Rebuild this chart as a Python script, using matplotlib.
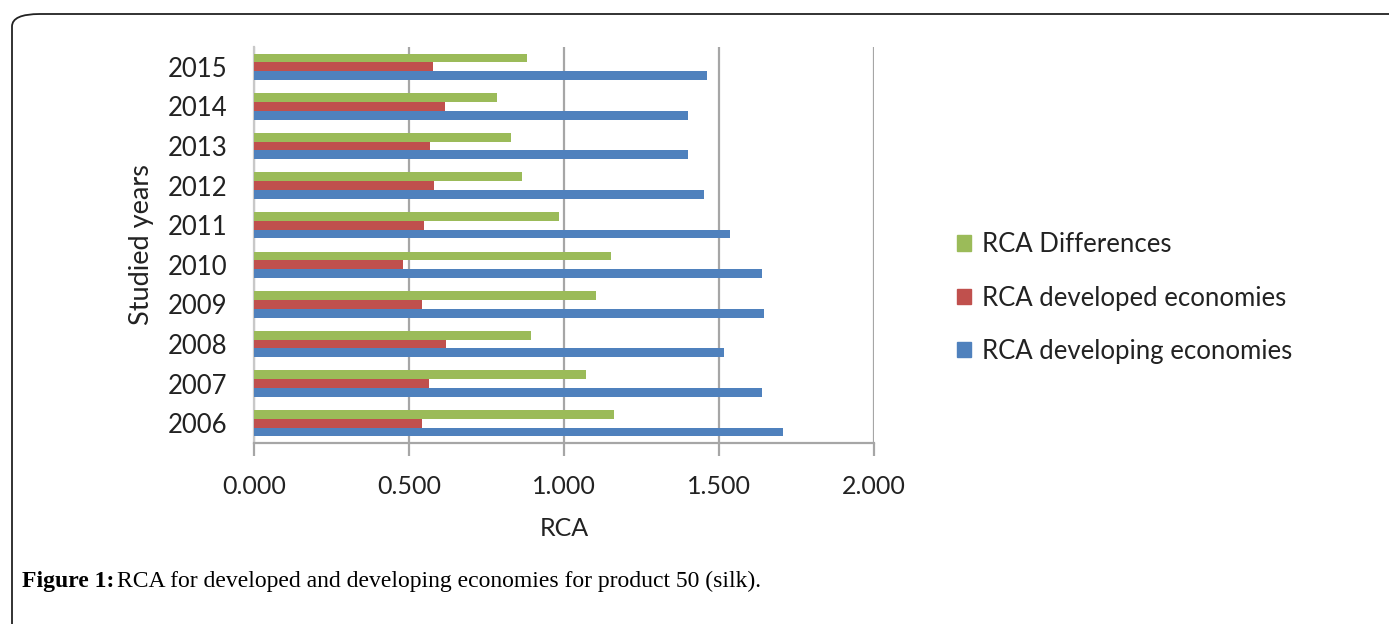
import numpy as np
import matplotlib.pyplot as plt
from matplotlib.patches import FancyBboxPatch, Patch
from matplotlib import ticker

years = ["2006", "2007", "2008", "2009", "2010", "2011", "2012", "2013", "2014", "2015"]
rca_diff = [1.162, 1.070, 0.894, 1.103, 1.153, 0.984, 0.866, 0.829, 0.785, 0.881]
rca_developed = [0.541, 0.566, 0.620, 0.541, 0.481, 0.548, 0.581, 0.569, 0.615, 0.579]
rca_developing = [1.706, 1.639, 1.517, 1.646, 1.639, 1.534, 1.451, 1.401, 1.401, 1.461]

GREEN = "#9BBB59"
RED = "#C0504D"
BLUE = "#4F81BD"
GRID = "#A6A6A6"

plt.rcParams["font.family"] = ["Lato", "DejaVu Sans"]

fig = plt.figure(figsize=(13.89, 6.24), dpi=100)

# rounded frame round the figure
frame = FancyBboxPatch((12 / 1389, -0.2), 1.2, 1.2 - 14 / 624,
                       boxstyle="round,pad=0,rounding_size=0.02",
                       transform=fig.transFigure, fill=False,
                       edgecolor="#222222", linewidth=1.3)
fig.patches.append(frame)

ax = fig.add_axes([254 / 1389, 181 / 624, 620 / 1389, 396 / 624])

y = np.arange(len(years))
h = 0.222
ax.barh(y + h, rca_diff, height=h, color=GREEN, label="RCA Differences", zorder=3)
ax.barh(y, rca_developed, height=h, color=RED, label="RCA developed economies", zorder=3)
ax.barh(y - h, rca_developing, height=h, color=BLUE, label="RCA developing economies", zorder=3)

ax.set_xlim(0, 2.0)
ax.set_ylim(-0.5, len(years) - 0.5)
ax.set_yticks(y)
ax.set_yticklabels(years)
ax.xaxis.set_major_locator(ticker.MultipleLocator(0.5))
ax.xaxis.set_major_formatter(ticker.FormatStrFormatter("%.3f"))

ax.grid(axis="x", color=GRID, linewidth=1.6, zorder=0)
for s in ["top", "right"]:
    ax.spines[s].set_visible(False)
ax.spines["left"].set_color("#C8C8C8")
ax.spines["left"].set_linewidth(1.6)
ax.spines["bottom"].set_color(GRID)
ax.spines["bottom"].set_linewidth(1.6)

ax.tick_params(axis="x", length=9, width=1.6, color=GRID, labelsize=18, pad=14,
               labelcolor="#222222")
ax.tick_params(axis="y", length=0, labelsize=18.5, pad=19, labelcolor="#222222")

ax.set_xlabel("RCA", fontsize=18, color="#222222", labelpad=14)
ax.set_ylabel("Studied years", fontsize=19.5, color="#222222", labelpad=10)

handles = [Patch(color=GREEN), Patch(color=RED), Patch(color=BLUE)]
labels = ["RCA Differences", "RCA developed economies", "RCA developing economies"]
fig.legend(handles, labels, loc="center left", bbox_to_anchor=(934 / 1389, 1 - 298 / 624),
           frameon=False, fontsize=18.5, handlelength=0.55, handleheight=0.55,
           handletextpad=0.42, labelspacing=1.1, labelcolor="#222222")

fig.canvas.draw()
cap_y = 1 - 581 / 624
t1 = fig.text(22 / 1389, cap_y, "Figure 1:", family="Liberation Serif",
              fontweight="bold", fontsize=17, va="center")
bb = t1.get_window_extent(renderer=fig.canvas.get_renderer())
fig.text(bb.x1 / 1389 + 3 / 1389, cap_y,
         "RCA for developed and developing economies for product 50 (silk).",
         family="Liberation Serif", fontsize=17, va="center")

fig.savefig("out.png", dpi=100)
